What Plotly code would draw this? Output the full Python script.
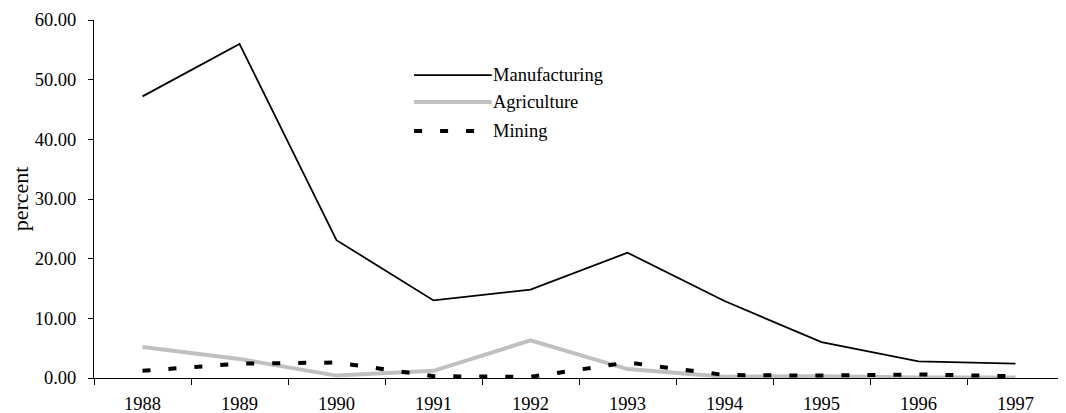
import plotly.graph_objects as go

years = ["1988", "1989", "1990", "1991", "1992", "1993", "1994", "1995", "1996", "1997"]
manufacturing = [47.2, 56.0, 23.1, 13.0, 14.8, 21.0, 12.9, 6.0, 2.8, 2.4]
agriculture = [5.2, 3.2, 0.4, 1.2, 6.3, 1.5, 0.2, 0.3, 0.1, 0.1]
mining = [1.2, 2.4, 2.6, 0.3, 0.2, 2.6, 0.5, 0.4, 0.6, 0.3]

series = [
    ("Manufacturing", manufacturing, dict(color="black", width=1.8)),
    ("Agriculture", agriculture, dict(color="#c0c0c0", width=4)),
    ("Mining", mining, dict(color="black", width=4, dash="8px,18px")),
]

font = dict(family="'Liberation Serif', 'Times New Roman', serif", size=18.5, color="black")

fig = go.Figure()
for name, vals, line in series:
    fig.add_trace(go.Scatter(x=years, y=vals, mode="lines", name=name, line=line))

# hand-drawn legend inside the plot, like the original
leg_y = [0.846, 0.771, 0.690]
for (name, vals, line), y in zip(series, leg_y):
    fig.add_shape(type="line", xref="paper", yref="paper", x0=0.330, x1=0.410, y0=y, y1=y,
                  line=line)
    fig.add_annotation(x=0.411, y=y, xref="paper", yref="paper", text=name, showarrow=False,
                       xanchor="left", yanchor="middle", xshift=-2, font=font)

# page body has an 8px margin, so the figure is 8px smaller than the window
fig.update_layout(
    width=1058, height=405,
    margin=dict(l=86, r=2, t=12, b=35),
    paper_bgcolor="white", plot_bgcolor="white",
    font=font,
    showlegend=False,
)
fig.update_xaxes(type="category", range=[-0.5, 9.5], showline=True, linecolor="black", linewidth=1,
                 ticks="outside", ticklen=6, tickcolor="black", tickson="boundaries",
                 ticklabelstandoff=9, showgrid=False, zeroline=False, automargin=False)
fig.update_yaxes(range=[0, 60], dtick=10, tickformat=".2f", showline=True, linecolor="black",
                 linewidth=1, ticks="outside", ticklen=5, tickcolor="black", showgrid=False,
                 ticklabelstandoff=8, zeroline=False, automargin=False,
                 title=dict(text="percent", standoff=5))

fig.write_html("out.html")
